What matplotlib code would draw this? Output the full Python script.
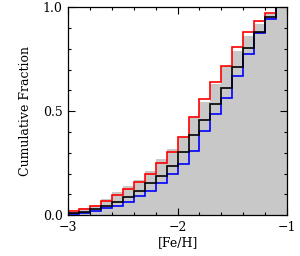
import numpy as np
import matplotlib
matplotlib.use("Agg")
import matplotlib.pyplot as plt
from matplotlib.ticker import MultipleLocator, FixedLocator

# ---------------- Data ----------------
# bin edges in [Fe/H], 0.1 dex wide
edges = np.round(np.arange(-3.0, -0.95, 0.1), 2)

# cumulative fractions per bin
gray_cum = [0.015, 0.035, 0.05, 0.075, 0.11, 0.14, 0.17, 0.21, 0.27, 0.32,
            0.375, 0.47, 0.545, 0.63, 0.72, 0.79, 0.86, 0.92, 0.97, 1.0]
red_cum = [0.018, 0.028, 0.043, 0.07, 0.097, 0.125, 0.161, 0.20, 0.249, 0.305,
           0.376, 0.471, 0.559, 0.641, 0.716, 0.811, 0.882, 0.936, 0.972, 1.0]
black_cum = [0.008, 0.016, 0.027, 0.045, 0.062, 0.088, 0.114, 0.155, 0.19, 0.238,
             0.303, 0.385, 0.46, 0.533, 0.614, 0.715, 0.803, 0.883, 0.952, 1.0]
blue_cum = [0.004, 0.008, 0.018, 0.033, 0.045, 0.065, 0.09, 0.118, 0.153, 0.196,
            0.244, 0.31, 0.406, 0.485, 0.562, 0.67, 0.776, 0.876, 0.945, 1.0]

# ---------------- Plot ----------------
plt.rcParams['font.family'] = ['DejaVu Serif']
plt.rcParams['font.size'] = 9

fig = plt.figure(figsize=(3.0, 2.56), dpi=100)
ax = fig.add_axes([0.227, 0.16, 0.73, 0.811])

ax.stairs(gray_cum, edges, fill=True, color='#c8c8c8', baseline=0)
ax.stairs(red_cum, edges, color='red', lw=1.2, baseline=None)
ax.stairs(blue_cum, edges, color='blue', lw=1.2, baseline=None)
ax.stairs(black_cum, edges, color='black', lw=1.2, baseline=None)

ax.set_xlim(-3, -1)
ax.set_ylim(0, 1)
ax.xaxis.set_major_locator(FixedLocator([-3, -2, -1]))
ax.xaxis.set_minor_locator(MultipleLocator(0.2))
ax.yaxis.set_major_locator(FixedLocator([0, 0.5, 1.0]))
ax.yaxis.set_minor_locator(MultipleLocator(0.1))
ax.set_yticklabels(['0.0', '0.5', '1.0'])
ax.set_xticklabels(['\u22123', '\u22122', '\u22121'])

ax.tick_params(which='both', direction='in', top=True, right=True, width=0.8)
ax.tick_params(which='major', length=4.8, pad=4)
ax.tick_params(which='minor', length=2.4)
for s in ax.spines.values():
    s.set_linewidth(0.9)

ax.set_xlabel('[Fe/H]', labelpad=2)
ax.set_ylabel('Cumulative Fraction', labelpad=8)

fig.savefig('out.png', dpi=100)
